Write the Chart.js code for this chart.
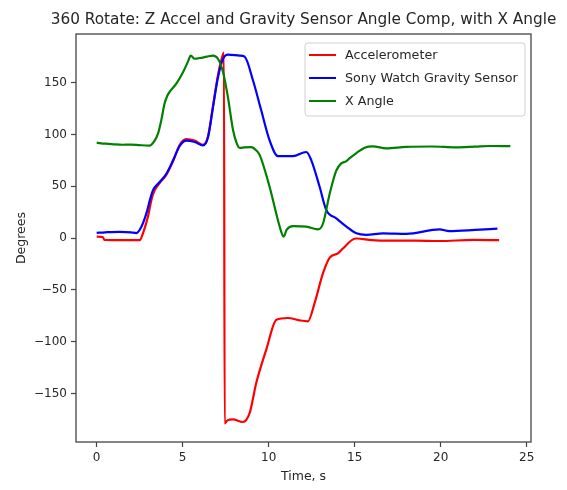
<!DOCTYPE html>
<html>
<head>
<meta charset="utf-8">
<script src="https://cdn.jsdelivr.net/npm/chart.js@4.4.1/dist/chart.umd.min.js"></script>
<style>
  html, body { margin: 0; padding: 0; background: #fff; }
  #wrap { width: 567px; height: 490px; }
</style>
</head>
<body>
<div id="wrap"><canvas id="rotChart" width="567" height="490"></canvas></div>
<script>
// Accelerometer Z angle (wraps from +180 to -180 near 7.4 s)
const accelT = [0, 0.35, 0.45, 1.0, 2.0, 2.5, 2.69, 2.98, 3.2, 3.37, 3.66, 4.05, 4.44, 4.83, 5.21, 5.7, 6.18, 6.47, 6.76, 7.05, 7.25, 7.40,
  7.44, 7.6, 7.92, 8.5, 8.9, 9.28, 9.86, 10.45, 11.12, 11.8, 12.28, 12.67, 13.16, 13.55, 14.03, 14.33, 14.9, 15.1, 16.0, 17.0, 18.5, 19.9, 21.9, 23.4];
const accelDeg = [1.3, 1, -1.9, -2, -2, -2, 4.5, 20.5, 38, 46, 53, 61, 74, 90, 95.5, 94, 90, 98, 127, 157, 172, 179,
  -179, -176, -175, -177.6, -168.6, -139.7, -107.7, -78.8, -77.2, -79.5, -80.4, -62.8, -34, -19, -14.8, -9.9, -1.3, -0.5, -2, -2.5, -2.5, -2.9, -1.9, -2];

// Sony watch gravity sensor angle
const gravityT = [0, 0.5, 1.34, 2.0, 2.31, 2.6, 2.89, 3.1, 3.27, 3.66, 4.05, 4.44, 4.83, 5.21, 5.7, 6.18, 6.47, 6.76, 7.05, 7.35, 7.64,
  8.31, 8.6, 9.09, 9.57, 10.06, 10.54, 11.41, 12.19, 12.48, 12.97, 13.35, 13.93, 14.52, 15.1, 15.68, 16.65, 18.0, 19.94, 20.5, 22.0, 23.3];
const gravityDeg = [5, 5.5, 6, 5.5, 4.8, 10.9, 23.7, 37, 46, 54, 62, 75, 89, 94, 92.6, 89.4, 97, 126, 155, 173, 177,
  176, 175, 152, 123, 94, 79, 79, 83, 75, 49, 27, 19, 11, 4.5, 3, 4.5, 4, 8.3, 6.7, 7.8, 9];

// X angle
const xAngleT = [0, 0.5, 1.0, 1.5, 2.0, 2.5, 3.08, 3.37, 3.57, 3.76, 3.95, 4.1, 4.24, 4.63, 5.02, 5.3, 5.47, 5.7, 6.0, 6.4, 6.76, 7.05,
  7.35, 7.63, 7.93, 8.15, 8.31, 8.6, 8.99, 9.25, 9.48, 10.06, 10.64, 10.87, 11.05, 11.41, 12.19, 12.87, 13.16, 13.55, 13.93, 14.22,
  14.5, 14.71, 15.1, 15.58, 16.06, 16.84, 18.0, 19.5, 20.9, 22.0, 22.85, 24.05];
const xAngleDeg = [92, 91, 90.4, 90, 90.2, 89.6, 89.2, 94, 101, 114, 130, 137, 141, 149, 160, 170, 176, 173, 173.7, 175, 176, 173,
  160, 136, 104, 91, 87, 87.5, 87.8, 85, 80, 49, 11, 1.3, 8, 11.5, 11, 8.3, 14, 43, 65, 72,
  74, 77, 82, 87.2, 88.5, 86.5, 88, 88.3, 87.5, 88.2, 88.8, 88.6];

const seriesNames = ['Accelerometer', 'Sony Watch Gravity Sensor', 'X Angle'];
const chartTitle = '360 Rotate: Z Accel and Gravity Sensor Angle Comp, with X Angle';
const xTicks = [0, 5, 10, 15, 20, 25];
const yTicks = [-150, -100, -50, 0, 50, 100, 150];

const toPoints = (ts, vs) => ts.map((t, i) => ({ x: t, y: vs[i] }));

// 5% margin around the data, like matplotlib's autoscale
function paddedRange(vals) {
  const lo = Math.min(...vals);
  const hi = Math.max(...vals);
  const m = (hi - lo) * 0.05;
  return [lo - m, hi + m];
}
const [xMin, xMax] = paddedRange([].concat(accelT, gravityT, xAngleT));
const [yMin, yMax] = paddedRange([].concat(accelDeg, gravityDeg, xAngleDeg));

const FONT = '"DejaVu Sans", sans-serif';
const INK = '#262626';
const FRAME = '#444444';

// title centred over the axes, frame on all four sides
const framePlugin = {
  id: 'frame',
  afterDatasetsDraw(chart) {
    const { ctx, chartArea: a } = chart;
    ctx.save();
    ctx.strokeStyle = FRAME;
    ctx.lineWidth = 1.3;
    ctx.strokeRect(a.left, a.top, a.right - a.left, a.bottom - a.top);
    ctx.fillStyle = INK;
    ctx.font = '15.3px ' + FONT;
    ctx.textAlign = 'center';
    ctx.textBaseline = 'middle';
    ctx.fillText(chartTitle, (a.left + a.right) / 2, 20);
    ctx.restore();
  }
};

// legend box in the upper right corner of the axes
const boxLegend = {
  id: 'boxLegend',
  afterDraw(chart) {
    const { ctx, chartArea: a } = chart;
    const w = 220, h = 73;
    const x = a.right - 6 - w;
    const y = a.top + 9;
    ctx.save();
    ctx.beginPath();
    ctx.roundRect(x, y, w, h, 3);
    ctx.fillStyle = 'rgba(255,255,255,0.8)';
    ctx.fill();
    ctx.strokeStyle = '#d0d0d0';
    ctx.lineWidth = 1;
    ctx.stroke();
    ctx.font = '12.7px ' + FONT;
    ctx.textBaseline = 'middle';
    chart.data.datasets.forEach((ds, i) => {
      const ly = y + 12 + i * 23;
      ctx.strokeStyle = ds.borderColor;
      ctx.lineWidth = 2;
      ctx.beginPath();
      ctx.moveTo(x + 4, ly);
      ctx.lineTo(x + 31, ly);
      ctx.stroke();
      ctx.fillStyle = INK;
      ctx.fillText(ds.label, x + 40, ly + 1);
    });
    ctx.restore();
  }
};

const lineStyle = {
  borderWidth: 2.2,
  pointRadius: 0,
  cubicInterpolationMode: 'monotone',
  fill: false
};

new Chart(document.getElementById('rotChart'), {
  type: 'line',
  data: {
    datasets: [
      { ...lineStyle, label: seriesNames[0], data: toPoints(accelT, accelDeg), borderColor: '#ff0000', order: 3 },
      { ...lineStyle, label: seriesNames[1], data: toPoints(gravityT, gravityDeg), borderColor: '#0000ff', order: 2 },
      { ...lineStyle, label: seriesNames[2], data: toPoints(xAngleT, xAngleDeg), borderColor: '#008000', order: 1 }
    ]
  },
  options: {
    responsive: false,
    animation: false,
    devicePixelRatio: 1,
    layout: { padding: { left: 0, right: 36, top: 34, bottom: 0 } },
    plugins: {
      legend: { display: false },
      tooltip: { enabled: false },
      title: { display: false }
    },
    scales: {
      x: {
        type: 'linear',
        min: xMin,
        max: xMax,
        afterBuildTicks: (scale) => { scale.ticks = xTicks.map(v => ({ value: v })); },
        afterFit: (scale) => { scale.height = 48; },
        border: { display: false },
        grid: { drawOnChartArea: false, drawTicks: true, tickLength: 5, tickWidth: 1.2, color: FRAME },
        ticks: { color: INK, padding: 4, maxRotation: 0, font: { family: FONT, size: 12 } },
        title: {
          display: true,
          text: 'Time, s',
          color: INK,
          font: { family: FONT, size: 12.5, lineHeight: 1.2 },
          padding: { top: 0, bottom: 5.5 }
        }
      },
      y: {
        min: yMin,
        max: yMax,
        afterBuildTicks: (scale) => { scale.ticks = yTicks.map(v => ({ value: v })); },
        afterFit: (scale) => { scale.width = 76; },
        border: { display: false },
        grid: { drawOnChartArea: false, drawTicks: true, tickLength: 5, tickWidth: 1.2, color: FRAME },
        ticks: {
          color: INK,
          padding: 4,
          font: { family: FONT, size: 12 },
          callback: (v) => String(v).replace('-', '\u2212')
        },
        title: {
          display: true,
          text: 'Degrees',
          color: INK,
          font: { family: FONT, size: 12.5, lineHeight: 1.2 },
          padding: { top: 14, bottom: 0 }
        }
      }
    }
  },
  plugins: [framePlugin, boxLegend]
});
</script>
</body>
</html>
